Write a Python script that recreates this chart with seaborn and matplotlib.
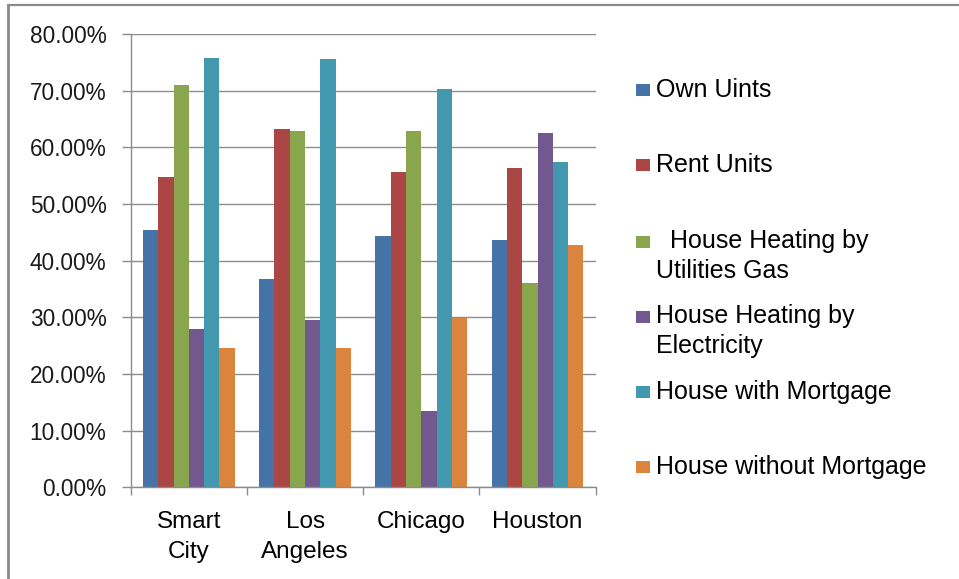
import matplotlib
matplotlib.use("Agg")
import matplotlib.pyplot as plt
import seaborn as sns
import pandas as pd
from matplotlib.ticker import PercentFormatter, MultipleLocator, FixedLocator
from matplotlib.lines import Line2D
from matplotlib.patches import Rectangle

# Housing statistics by city (percent of units)
cities = ["Smart\nCity", "Los\nAngeles", "Chicago", "Houston"]
series = [
    "Own Uints",
    "Rent Units",
    "  House Heating by\nUtilities Gas",
    "House Heating by\nElectricity",
    "House with Mortgage",
    "House without Mortgage",
]
own_units = [45.4, 36.8, 44.3, 43.6]
rent_units = [54.7, 63.3, 55.6, 56.3]
heating_gas = [71.0, 62.9, 62.8, 36.1]
heating_electricity = [28.0, 29.6, 13.4, 62.6]
with_mortgage = [75.8, 75.5, 70.3, 57.4]
without_mortgage = [24.5, 24.5, 29.8, 42.7]
colors = ["#4572A7", "#AA4643", "#89A54E", "#71588F", "#4198AF", "#DB843D"]

values = [own_units, rent_units, heating_gas, heating_electricity,
          with_mortgage, without_mortgage]
df = pd.DataFrame(
    [{"city": c, "series": s, "pct": v}
     for s, vals in zip(series, values) for c, v in zip(cities, vals)]
)

sns.set_theme(style="white")
plt.rcParams["font.family"] = ["Liberation Sans", "DejaVu Sans"]

W, H = 959, 579
fig = plt.figure(figsize=(W / 100, H / 100), dpi=100)
ax = fig.add_axes([130.7 / W, 1 - 487.3 / H, 465 / W, 453.3 / H])

sns.barplot(data=df, x="city", y="pct", hue="series", order=cities,
            hue_order=series, palette=colors, saturation=1, width=0.79,
            gap=0, errorbar=None, legend=False, linewidth=0, ax=ax)

grid_col = "#8c8c8c"
ax.set_xlim(-0.5, 3.5)
ax.set_ylim(0, 80)
ax.yaxis.set_major_locator(MultipleLocator(10))
ax.yaxis.set_major_formatter(PercentFormatter(decimals=2))
ax.grid(axis="y", color=grid_col, lw=1.0)
ax.grid(axis="x", visible=False)
ax.set_axisbelow(True)
ax.set_xlabel("")
ax.set_ylabel("")

for side in ("top", "right"):
    ax.spines[side].set_visible(False)
for side in ("left", "bottom"):
    ax.spines[side].set_color(grid_col)
    ax.spines[side].set_linewidth(1.0)

# category labels centred, boundary ticks between groups
ax.set_xticks(range(len(cities)))
ax.set_xticklabels(cities, linespacing=1.45)
ax.xaxis.set_minor_locator(FixedLocator([i - 0.5 for i in range(len(cities) + 1)]))
ax.tick_params(axis="x", which="major", bottom=True, length=0, pad=17,
               labelsize=17.5, labelcolor="black")
ax.tick_params(axis="x", which="minor", bottom=True, length=5.5,
               width=1.0, color=grid_col, direction="out")
ax.tick_params(axis="y", which="major", left=True, length=6.5, width=1.0,
               color=grid_col, direction="out", pad=11, labelsize=16.3,
               labelcolor="#1a1a1a")

# legend entries on the right
entry_y = [90, 165, 241.7, 316.7, 391.7, 466.7]
line_step = 29
for label, col, yc in zip(series, colors, entry_y):
    fig.add_artist(Rectangle((636 / W, 1 - (yc + 6) / H), 14 / W, 12 / H,
                             transform=fig.transFigure, color=col, lw=0))
    nlines = label.count("\n") + 1
    yb = yc + (nlines - 1) * line_step / 2
    fig.text(656 / W, 1 - yb / H, label, fontsize=18, va="center",
             ha="left", color="black", linespacing=1.3)

# chart frame
frame_col = "#8a8a8a"
fig.add_artist(Line2D([8 / W, 1], [1 - 4.5 / H, 1 - 4.5 / H],
                      transform=fig.transFigure, color=frame_col, lw=1.6))
fig.add_artist(Line2D([8 / W, 8 / W], [0, 1 - 4.5 / H],
                      transform=fig.transFigure, color=frame_col, lw=2.0))

fig.savefig("out.png", dpi=100)
